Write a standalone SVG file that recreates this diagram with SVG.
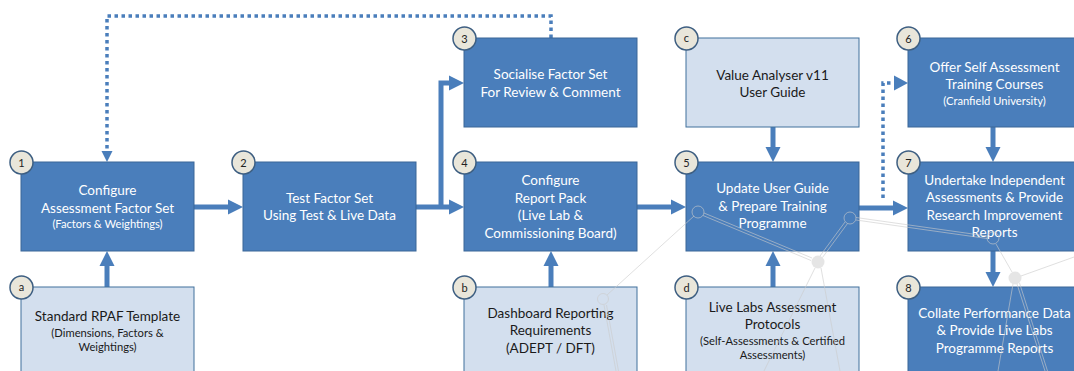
<svg xmlns="http://www.w3.org/2000/svg" width="1074" height="371" viewBox="0 0 1074 371">
  <style>
    .dark { fill: #4a7ebb; stroke: #3b6797; stroke-width: 1; }
    .light { fill: #d3dfee; stroke: #41719c; stroke-width: 1; }
    .badge circle { fill: #e9e6da; stroke: #3e5f82; stroke-width: 1.5; }
    .badge text { font-family: Lato, "Liberation Sans", sans-serif; font-size: 11px; fill: #222; text-anchor: middle; }
    .t { font-family: Lato, "Liberation Sans", sans-serif; text-anchor: middle; font-size: 13.5px; }
    .w { fill: #ffffff; }
    .k { fill: #1a1a1a; }
    .s { font-size: 11.2px; }
    .arrow { stroke: #4a7ebb; stroke-width: 5; fill: none; stroke-linejoin: miter; }
    .head { fill: #4a7ebb; }
    .dot { stroke: #4a7ebb; stroke-width: 3.5; fill: none; stroke-dasharray: 3.5 3.5; }
    .net line { stroke: #cccccc; stroke-width: 1; opacity: 0.6; }
    .net .ring { fill: none; stroke: #cccccc; stroke-width: 1; opacity: 0.6; }
    .net .fill { fill: #dedede; opacity: 0.8; }
  </style>

  <!-- connectors -->
  <g id="connectors">
    <!-- 1 -> 2 -->
    <line class="arrow" x1="194" y1="207" x2="229" y2="207"/>
    <polygon class="head" points="228,199.5 243,207 228,214.5"/>
    <!-- 2 -> 4 and branch to 3 -->
    <line class="arrow" x1="416" y1="207" x2="450" y2="207"/>
    <polygon class="head" points="449,199.5 464,207 449,214.5"/>
    <path class="arrow" d="M441,207 V83 H450"/>
    <polygon class="head" points="449,75.5 464,83 449,90.5"/>
    <!-- 4 -> 5 -->
    <line class="arrow" x1="637" y1="207" x2="672" y2="207"/>
    <polygon class="head" points="671,199.5 686,207 671,214.5"/>
    <!-- 5 -> 7 -->
    <line class="arrow" x1="859" y1="208" x2="894" y2="208"/>
    <polygon class="head" points="893,200.5 908,208 893,215.5"/>
    <!-- a -> 1 -->
    <line class="arrow" x1="107" y1="287" x2="107" y2="265"/>
    <polygon class="head" points="99.5,266 107,251 114.5,266"/>
    <!-- b -> 4 -->
    <line class="arrow" x1="551" y1="287" x2="551" y2="265"/>
    <polygon class="head" points="543.5,266 551,251 558.5,266"/>
    <!-- d -> 5 -->
    <line class="arrow" x1="773" y1="287" x2="773" y2="265"/>
    <polygon class="head" points="765.5,266 773,251 780.5,266"/>
    <!-- c -> 5 -->
    <line class="arrow" x1="773" y1="127" x2="773" y2="148"/>
    <polygon class="head" points="765.5,147 773,162 780.5,147"/>
    <!-- 6 -> 7 -->
    <line class="arrow" x1="993" y1="127" x2="993" y2="148"/>
    <polygon class="head" points="985.5,147 993,162 1000.5,147"/>
    <!-- 7 -> 8 -->
    <line class="arrow" x1="993" y1="251" x2="993" y2="273"/>
    <polygon class="head" points="985.5,272 993,287 1000.5,272"/>
    <!-- dotted feedback 3 -> 1 -->
    <path class="dot" d="M551,38 V16 H107 V151"/>
    <polygon class="head" points="101.5,151 112.5,151 107,162"/>
    <!-- dotted 5 -> 6 -->
    <path class="dot" d="M883,198 V83 H894"/>
    <polygon class="head" points="894,75.5 908,83 894,90.5"/>
  </g>

  <!-- nodes -->
  <g id="node-1">
    <rect class="dark" x="21" y="162" width="173" height="89"/>
    <text class="t w" x="107.5" y="195">Configure</text>
    <text class="t w" x="107.5" y="212.5">Assessment Factor Set</text>
    <text class="t w s" x="107.5" y="228">(Factors &amp; Weightings)</text>
    <g class="badge"><circle cx="21.5" cy="162.5" r="11.5"/><text x="21.5" y="166.5">1</text></g>
  </g>
  <g id="node-2">
    <rect class="dark" x="243" y="162" width="173" height="89"/>
    <text class="t w" x="329.5" y="202.5">Test Factor Set</text>
    <text class="t w" x="329.5" y="220">Using Test &amp; Live Data</text>
    <g class="badge"><circle cx="243.5" cy="162.5" r="11.5"/><text x="243.5" y="166.5">2</text></g>
  </g>
  <g id="node-3">
    <rect class="dark" x="464" y="38" width="173" height="89"/>
    <text class="t w" x="550.5" y="79">Socialise Factor Set</text>
    <text class="t w" x="550.5" y="96.5">For Review &amp; Comment</text>
    <g class="badge"><circle cx="464.5" cy="38.5" r="11.5"/><text x="464.5" y="42.5">3</text></g>
  </g>
  <g id="node-4">
    <rect class="dark" x="464" y="162" width="173" height="89"/>
    <text class="t w" x="550.5" y="185">Configure</text>
    <text class="t w" x="550.5" y="202.5">Report Pack</text>
    <text class="t w" x="550.5" y="220">(Live Lab &amp;</text>
    <text class="t w" x="550.5" y="237.5">Commissioning Board)</text>
    <g class="badge"><circle cx="464.5" cy="162.5" r="11.5"/><text x="464.5" y="166.5">4</text></g>
  </g>
  <g id="node-5">
    <rect class="dark" x="686" y="162" width="173" height="89"/>
    <text class="t w" x="772.5" y="193">Update User Guide</text>
    <text class="t w" x="772.5" y="210.5">&amp; Prepare Training</text>
    <text class="t w" x="772.5" y="228">Programme</text>
    <g class="badge"><circle cx="686.5" cy="162.5" r="11.5"/><text x="686.5" y="166.5">5</text></g>
  </g>
  <g id="node-6">
    <rect class="dark" x="908" y="38" width="173" height="89"/>
    <text class="t w" x="994.5" y="71.5">Offer Self Assessment</text>
    <text class="t w" x="994.5" y="89">Training Courses</text>
    <text class="t w s" x="994.5" y="104.5">(Cranfield University)</text>
    <g class="badge"><circle cx="908.5" cy="38.5" r="11.5"/><text x="908.5" y="42.5">6</text></g>
  </g>
  <g id="node-7">
    <rect class="dark" x="908" y="162" width="173" height="89"/>
    <text class="t w" x="994.5" y="185">Undertake Independent</text>
    <text class="t w" x="994.5" y="202">Assessments &amp; Provide</text>
    <text class="t w" x="994.5" y="219.5">Research Improvement</text>
    <text class="t w" x="994.5" y="237">Reports</text>
    <g class="badge"><circle cx="908.5" cy="162.5" r="11.5"/><text x="908.5" y="166.5">7</text></g>
  </g>
  <g id="node-8">
    <rect class="dark" x="908" y="287" width="173" height="100"/>
    <text class="t w" x="994.5" y="317.5">Collate Performance Data</text>
    <text class="t w" x="994.5" y="335">&amp; Provide Live Labs</text>
    <text class="t w" x="994.5" y="352.5">Programme Reports</text>
    <g class="badge"><circle cx="908.5" cy="287.5" r="11.5"/><text x="908.5" y="291.5">8</text></g>
  </g>
  <g id="node-a">
    <rect class="light" x="21" y="287" width="173" height="100"/>
    <text class="t k" x="107.5" y="320.5">Standard RPAF Template</text>
    <text class="t k s" x="107.5" y="336.5">(Dimensions, Factors &amp;</text>
    <text class="t k s" x="107.5" y="351">Weightings)</text>
    <g class="badge"><circle cx="21.5" cy="287.5" r="11.5"/><text x="21.5" y="291">a</text></g>
  </g>
  <g id="node-b">
    <rect class="light" x="464" y="287" width="173" height="100"/>
    <text class="t k" x="550.5" y="317.5">Dashboard Reporting</text>
    <text class="t k" x="550.5" y="335">Requirements</text>
    <text class="t k" x="550.5" y="352.5">(ADEPT / DFT)</text>
    <g class="badge"><circle cx="464.5" cy="287.5" r="11.5"/><text x="464.5" y="291.5">b</text></g>
  </g>
  <g id="node-c">
    <rect class="light" x="686" y="38" width="173" height="89"/>
    <text class="t k" x="772.5" y="80">Value Analyser v11</text>
    <text class="t k" x="772.5" y="97">User Guide</text>
    <g class="badge"><circle cx="686.5" cy="38.5" r="11.5"/><text x="686.5" y="42">c</text></g>
  </g>
  <g id="node-d">
    <rect class="light" x="686" y="287" width="173" height="100"/>
    <text class="t k" x="772.5" y="311.5">Live Labs Assessment</text>
    <text class="t k" x="772.5" y="329">Protocols</text>
    <text class="t k s" x="772.5" y="345">(Self-Assessments &amp; Certified</text>
    <text class="t k s" x="772.5" y="359">Assessments)</text>
    <g class="badge"><circle cx="686.5" cy="287.5" r="11.5"/><text x="686.5" y="291.5">d</text></g>
  </g>

  <!-- faint decorative network drawn over the lower right -->
  <g class="net">
    <line x1="694" y1="216" x2="607" y2="295"/>
    <line x1="604" y1="305" x2="616" y2="371"/>
    <line x1="606.5" y1="305" x2="618.5" y2="371"/>
    <line x1="704" y1="213" x2="812" y2="258"/>
    <line x1="703" y1="215.5" x2="811" y2="260.5"/>
    <line x1="845" y1="222" x2="820" y2="256"/>
    <line x1="847.5" y1="223.5" x2="822.5" y2="257.5"/>
    <line x1="815" y1="268" x2="764" y2="371"/>
    <line x1="821" y1="268" x2="840" y2="371"/>
    <line x1="856" y1="217.5" x2="987" y2="236"/>
    <line x1="856" y1="220" x2="987" y2="238.5"/>
    <line x1="996" y1="244" x2="1012" y2="272"/>
    <line x1="1021" y1="276" x2="1074" y2="257"/>
    <line x1="1013" y1="284" x2="998" y2="371"/>
    <line x1="1017" y1="284" x2="1045" y2="371"/>
    <line x1="1019.5" y1="283" x2="1047.5" y2="371"/>
    <circle class="ring" cx="698" cy="212" r="6"/>
    <circle class="ring" cx="850" cy="218" r="6"/>
    <circle class="ring" cx="993" cy="238" r="6"/>
    <circle class="ring" cx="603" cy="299" r="5.5"/>
    <circle class="fill" cx="818" cy="262" r="6.5"/>
    <circle class="fill" cx="1015" cy="278" r="6.5"/>
  </g>
</svg>
